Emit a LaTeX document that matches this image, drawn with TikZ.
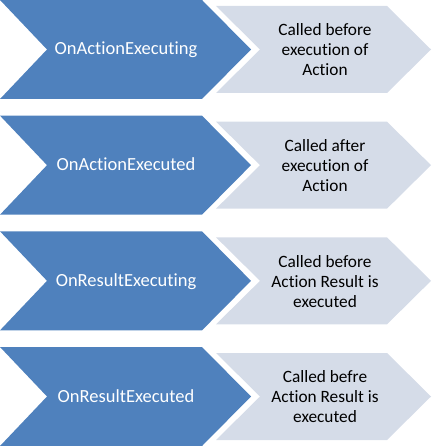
\documentclass[tikz,border=0pt]{standalone}
\usepackage{fontspec}
\setmainfont{Carlito}[RawFeature={-liga;-calt;-dlig;-clig}]
\definecolor{chevblue}{RGB}{79,129,189}
\definecolor{chevgray}{RGB}{213,220,232}
\tikzset{
  bluechev/.style={fill=chevblue, draw=none},
  graychev/.style={fill=chevgray, draw=none},
  bluetext/.style={text=white, font=\fontsize{18.5}{22}\selectfont, inner sep=0pt, anchor=base},
  graytext/.style={text=black, font=\fontsize{17.3}{20}\selectfont, align=center, inner sep=0pt, anchor=center},
}
\begin{document}
\begin{tikzpicture}[x=1pt,y=-1pt]
\useasboundingbox (0,0) rectangle (432,446);
\foreach \i/\T/\L/\R in {
  1/0/{OnActionExecuting}/{Called before\\execution of\\Action},
  2/115.67/{OnActionExecuted}/{Called after\\execution of\\Action},
  3/231.33/{OnResultExecuting}/{Called before\\Action Result is\\executed},
  4/347/{OnResultExecuted}/{Called befre\\Action Result is\\executed}}{
  \path[bluechev] (0,\T) -- (202,\T) -- (251,\T+49.5) -- (202,\T+99) -- (0,\T+99) -- (47,\T+49.5) -- cycle;
  \path[graychev] (216,\T+6) -- (387,\T+6) -- (431,\T+49.5) -- (387,\T+93) -- (216,\T+93) -- (260,\T+49.5) -- cycle;
  \node[bluetext] (lbl\i) at (126,\T+55) {\L};
  \node[graytext] (desc\i) at (325,\T+50) {\R};
}
\end{tikzpicture}
\end{document}
